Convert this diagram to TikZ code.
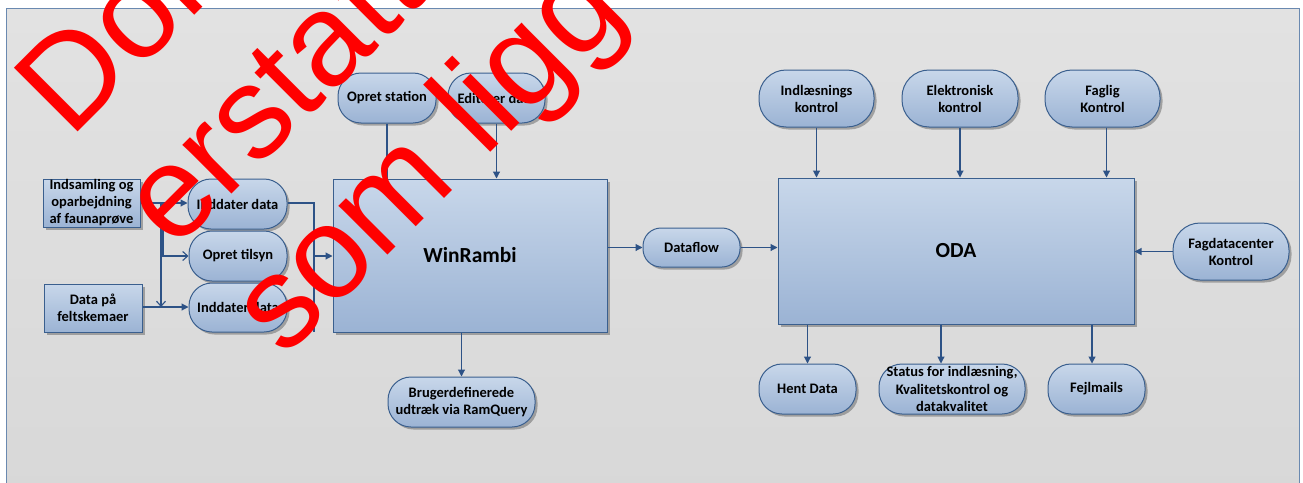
\documentclass[tikz,border=0pt]{standalone}
\usepackage{fontspec}
\setmainfont{Carlito}
\newfontfamily\wmfont{Liberation Sans}
\usetikzlibrary{arrows.meta,shadows,calc}
\definecolor{boxtop}{HTML}{C8D7EA}
\definecolor{boxbot}{HTML}{9BB3D4}
\definecolor{boxline}{HTML}{3A5F8E}
\definecolor{connc}{HTML}{2D5286}
\definecolor{frametop}{HTML}{E2E2E2}
\definecolor{framebot}{HTML}{D8D8D8}
\definecolor{frameline}{HTML}{6A89B0}
\definecolor{wmred}{HTML}{FF0000}
\begin{document}
\begin{tikzpicture}[x=1pt,y=-1pt,
  base/.style={draw=boxline, line width=1pt, top color=boxtop, bottom color=boxbot,
    inner sep=0pt, align=center, text=black,
    font=\bfseries\fontsize{14.5}{17}\selectfont,
    drop shadow={shadow xshift=2.5pt, shadow yshift=-2.5pt, fill=black, opacity=0.28}},
  sqbox/.style={base, rectangle},
  rbox/.style={base, rectangle, rounded corners=#1},
  rbox/.default=23pt,
  bigfont/.style={font=\bfseries\fontsize{21.5}{24}\selectfont},
  connline/.style={draw=connc, line width=1.1pt},
  arr/.style={connline, -{Triangle[length=7pt,width=7pt]}},
  oarr/.style={connline, -{Straight Barb[length=5pt,width=9pt]}},
  wm/.style={anchor=base west, rotate=45, inner sep=0pt, text=wmred,
    font=\wmfont\fontsize{131}{131}\selectfont}
]
\clip (0,0) rectangle (1303,482);
% frame
\path[draw=frameline, line width=1pt, top color=frametop, bottom color=framebot]
  (6,8) rectangle (1299,500);

% left inputs
\node[sqbox, minimum width=97pt, minimum height=48pt] (indsam) at (91.5,203)
  {Indsamling og\\oparbejdning\\af faunaprøve};
\node[sqbox, minimum width=98pt, minimum height=48pt] (datapa) at (93,308)
  {Data på\\feltskemaer};
\node[rbox, minimum width=99pt, minimum height=50pt] (inddat1) at (237.5,204) {Inddater data};
\node[rbox, minimum width=98pt, minimum height=50pt] (oprett) at (238,256) {Opret tilsyn};
\node[rbox, minimum width=98pt, minimum height=49pt] (inddat2) at (238,307.5) {Inddater data};

% top of WinRambi
\node[rbox, minimum width=98pt, minimum height=50pt] (opst) at (387,98) {Opret station};
\node[rbox, minimum width=97pt, minimum height=50pt] (edit) at (496.5,98) {Editerer data};

% WinRambi
\node[sqbox, bigfont, minimum width=274pt, minimum height=153pt] (winr) at (470,255.5) {WinRambi};
\node[rbox, minimum width=147pt, minimum height=50pt] (brug) at (461.5,402)
  {Brugerdefinerede\\udtræk via RamQuery};

% Dataflow
\node[rbox=18pt, minimum width=97pt, minimum height=39pt] (dflow) at (691.5,247.5) {Dataflow};

% ODA
\node[sqbox, bigfont, minimum width=356pt, minimum height=146pt] (oda) at (956,251) {ODA};
\node[rbox=27pt, minimum width=115pt, minimum height=57pt] (indl) at (816.5,98.5) {Indlæsnings\\kontrol};
\node[rbox=27pt, minimum width=116pt, minimum height=57pt] (elek) at (960,98.5) {Elektronisk\\kontrol};
\node[rbox=27pt, minimum width=115pt, minimum height=57pt] (fagl) at (1102.5,98.5) {Faglig\\Kontrol};
\node[rbox=27pt, minimum width=116pt, minimum height=57pt] (fagd) at (1231,251.5) {Fagdatacenter\\Kontrol};
\node[rbox, minimum width=97pt, minimum height=50pt] (hent) at (807.5,389) {Hent Data};
\node[rbox, minimum width=146pt, minimum height=50pt, font=\bfseries\fontsize{14.5}{17.5}\selectfont] (status) at (952,389)
  {Status for indlæsning,\\Kvalitetskontrol og\\datakvalitet};
\node[rbox, minimum width=97pt, minimum height=50pt] (fejl) at (1096.5,389) {Fejlmails};

% connectors left
\coordinate (b1) at (161,203);
\coordinate (b2) at (161,307);
\coordinate (b3) at (163,203);
\coordinate (b4) at (163,256);
\draw[arr] (indsam.east |- b1) -- (inddat1.west |- b1);
\draw[arr] (datapa.east |- b2) -- (inddat2.west |- b2);
\draw[oarr] (b1) -- (b2);
\draw[oarr] (b3) -- (b4) -- (oprett.west |- b4);
\coordinate (bus1) at (314,203);
\coordinate (bus2) at (314,332);
\coordinate (bus3) at (314,256);
\draw[connline] (inddat1.east |- bus1) -- (bus1) -- (bus2);
\draw[arr] (bus3) -- (winr.west |- bus3);

% WinRambi connectors
\draw[connline] (opst.south) -- (opst.south |- winr.north);
\draw[arr] (edit.south) -- (edit.south |- winr.north);
\draw[arr] (brug.north |- winr.south) -- (brug.north);
\draw[arr] (winr.east |- dflow.west) -- (dflow.west);
\draw[arr] (dflow.east) -- (dflow.east -| oda.west);

% ODA connectors
\draw[arr] (indl.south) -- (indl.south |- oda.north);
\draw[arr] (elek.south) -- (elek.south |- oda.north);
\draw[arr] ([xshift=4pt]fagl.south) -- ([xshift=4pt]fagl.south |- oda.north);
\draw[arr] (fagd.west) -- (fagd.west -| oda.east);
\draw[arr] (hent.north |- oda.south) -- (hent.north);
\draw[arr] ([xshift=-11pt]status.north |- oda.south) -- ([xshift=-11pt]status.north);
\draw[arr] ([xshift=-4.5pt]fejl.north |- oda.south) -- ([xshift=-4.5pt]fejl.north);

% watermark
\node[wm] (wm1) at (70,140) {Dokumentet};
\node[wm] (wm2) at (174,252) {erstattet};
\node[wm] (wm3) at (284,359) {som ligger};
\end{tikzpicture}
\end{document}
